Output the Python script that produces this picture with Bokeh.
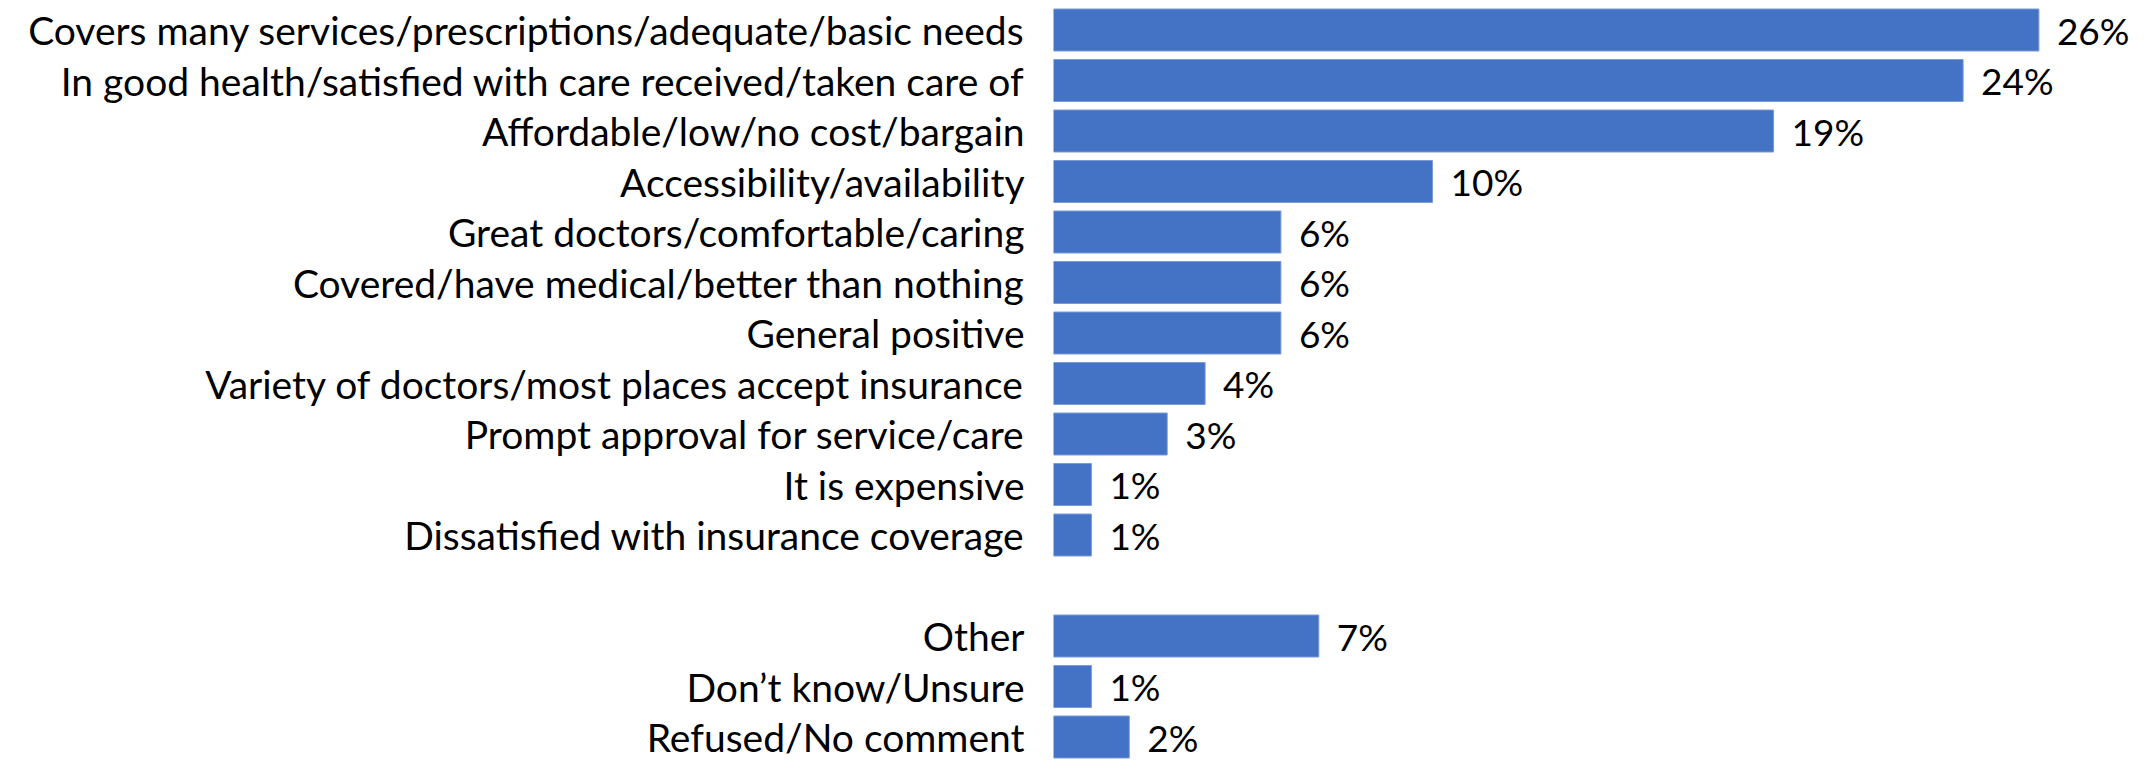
from bokeh.plotting import figure
from bokeh.models import ColumnDataSource, Range1d, FixedTicker, LinearAxis
from bokeh.embed import file_html
from bokeh.resources import INLINE
from bokeh.core.properties import value

categories = [
    "Covers many services/prescriptions/adequate/basic needs",
    "In good health/satisfied with care received/taken care of",
    "Affordable/low/no cost/bargain",
    "Accessibility/availability",
    "Great doctors/comfortable/caring",
    "Covered/have medical/better than nothing",
    "General positive",
    "Variety of doctors/most places accept insurance",
    "Prompt approval for service/care",
    "It is expensive",
    "Dissatisfied with insurance coverage",
    "Other",
    "Don\u2019t know/Unsure",
    "Refused/No comment",
]
values_pct = [26, 24, 19, 10, 6, 6, 6, 4, 3, 1, 1, 7, 1, 2]
value_labels = ["26%", "24%", "19%", "10%", "6%", "6%", "6%", "4%", "3%", "1%", "1%", "7%", "1%", "2%"]

FONT = "Lato"
BAR = "#4472C4"

# layout: a blank slot separates the main answers from Other/Don't know/Refused
n_main = 11
rows = [-(i + (1 if i >= n_main else 0)) for i in range(len(categories))]

src = ColumnDataSource(dict(y=rows, v=values_pct, lab=value_labels, cat=categories))

W, H = 2141, 762
left = 1053
px_per_unit_x = 37.9
px_per_row = 50.5
top_offset = 29.5

x_end = (W - left) / px_per_unit_x
y_top = top_offset / px_per_row
y_bot = y_top - H / px_per_row

p = figure(width=W, height=H, output_backend="svg", toolbar_location=None,
           x_range=Range1d(0, x_end), y_range=Range1d(y_bot, y_top),
           min_border_left=left, min_border_right=0, min_border_top=0, min_border_bottom=0,
           x_axis_location=None, y_axis_location=None)
p.outline_line_color = None
p.grid.visible = False
p.background_fill_color = "white"
p.border_fill_color = "white"

yaxis = LinearAxis(ticker=FixedTicker(ticks=rows),
                   major_label_overrides={r: c for r, c in zip(rows, categories)})
yaxis.axis_line_color = None
yaxis.major_tick_line_color = None
yaxis.minor_tick_line_color = None
yaxis.major_tick_out = 0
yaxis.major_tick_in = 0
yaxis.major_label_standoff = 29
yaxis.major_label_text_font = FONT
yaxis.major_label_text_font_size = "39px"
yaxis.major_label_text_color = "black"
p.add_layout(yaxis, "left")

p.hbar(y="y", left=0, right="v", height=42 / px_per_row, source=src,
       fill_color=BAR, line_color="#7b9bd6", line_width=1)

p.text(x="v", y="y", text="lab", source=src, x_offset=18,
       text_baseline="middle", text_align="left",
       text_font=value(FONT), text_font_size="37px", text_color="black")

open("out.html", "w").write(file_html(p, INLINE))
